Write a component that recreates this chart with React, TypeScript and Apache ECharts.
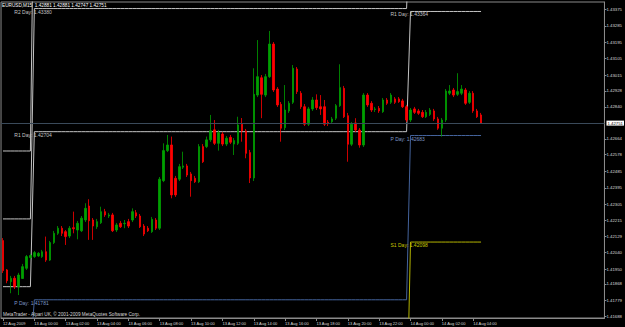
import React, { useEffect, useRef } from "react";
import * as echarts from "echarts";

// ---- data (EURUSD M15, 12 Aug 22:00 .. 14 Aug 04:30) ----
const opens = [
  1.42106, 1.41945, 1.4188, 1.41899, 1.41853, 1.41898, 1.41954, 1.42013, 1.42018, 1.42022,
  1.42018, 1.42045, 1.41999, 1.42095, 1.42146, 1.42174, 1.42155, 1.42131, 1.42177, 1.42164,
  1.4216, 1.42219, 1.42296, 1.42219, 1.42182, 1.42204, 1.42265, 1.42241, 1.42247, 1.42164,
  1.42201, 1.42199, 1.4221, 1.42219, 1.42259, 1.42241, 1.42186, 1.42174, 1.42155, 1.42219,
  1.42174, 1.42435, 1.426, 1.42631, 1.42448, 1.42443, 1.42509, 1.42516, 1.42472, 1.42448,
  1.42429, 1.42622, 1.42622, 1.42659, 1.42714, 1.4264, 1.42691, 1.42636, 1.42673, 1.42636,
  1.4264, 1.42745, 1.42708, 1.42589, 1.4245, 1.42905, 1.43, 1.42905, 1.43006, 1.43185,
  1.42938, 1.42854, 1.42726, 1.42818, 1.42865, 1.43048, 1.42915, 1.42841, 1.42745, 1.42829,
  1.42878, 1.42841, 1.42841, 1.42756, 1.42759, 1.42778, 1.42847, 1.42942, 1.42792, 1.42635,
  1.42752, 1.42713, 1.42631, 1.42905, 1.4286, 1.42826, 1.42832, 1.42814, 1.42878, 1.42865,
  1.42884, 1.42884, 1.42873, 1.42841, 1.42768, 1.42829, 1.42818, 1.4281, 1.42786, 1.42799,
  1.42818, 1.42774, 1.42723, 1.42768, 1.42915, 1.42933, 1.42909, 1.42915, 1.42933, 1.42865,
  1.42915, 1.42818, 1.42796,
];
const closes = [
  1.41941, 1.41886, 1.41899, 1.41853, 1.41917, 1.41963, 1.42018, 1.42024, 1.4204, 1.42036,
  1.42045, 1.41999, 1.42095, 1.42146, 1.42174, 1.42146, 1.42128, 1.42174, 1.42171, 1.42201,
  1.42229, 1.42283, 1.42215, 1.42186, 1.4221, 1.42265, 1.42247, 1.42247, 1.4216, 1.42192,
  1.42182, 1.42201, 1.42186, 1.42265, 1.42241, 1.42182, 1.42142, 1.4216, 1.42223, 1.42174,
  1.42443, 1.426, 1.42631, 1.42357, 1.42357, 1.42512, 1.42516, 1.42466, 1.42435, 1.42429,
  1.42622, 1.42539, 1.42659, 1.42709, 1.4264, 1.42699, 1.42636, 1.42668, 1.42646, 1.42655,
  1.42741, 1.42708, 1.42585, 1.4245, 1.42909, 1.43006, 1.42909, 1.43006, 1.43185, 1.42933,
  1.42851, 1.42723, 1.42823, 1.4286, 1.43052, 1.42924, 1.42841, 1.42745, 1.42829, 1.42878,
  1.42836, 1.42829, 1.42745, 1.42748, 1.42774, 1.42847, 1.42946, 1.42786, 1.42635, 1.42745,
  1.42713, 1.42631, 1.42905, 1.42851, 1.42823, 1.42829, 1.42818, 1.42878, 1.4286, 1.42905,
  1.42865, 1.42869, 1.42841, 1.42768, 1.42823, 1.4281, 1.42805, 1.42786, 1.4281, 1.42823,
  1.42774, 1.42723, 1.42768, 1.42927, 1.42927, 1.42905, 1.42924, 1.42938, 1.4286, 1.42915,
  1.42818, 1.42786, 1.42751,
];
const lows = [
  1.41928, 1.41872, 1.41817, 1.4184, 1.41807, 1.41895, 1.41945, 1.42005, 1.42011, 1.42016,
  1.42011, 1.41989, 1.41994, 1.42087, 1.42137, 1.42131, 1.42082, 1.4212, 1.42146, 1.42113,
  1.42153, 1.42208, 1.4211, 1.4211, 1.4217, 1.42197, 1.42236, 1.4223, 1.42153, 1.42153,
  1.42175, 1.42174, 1.42175, 1.42208, 1.4223, 1.42175, 1.42131, 1.42153, 1.42148, 1.42164,
  1.42164, 1.42427, 1.42592, 1.42338, 1.42346, 1.42433, 1.42499, 1.42455, 1.42347, 1.42422,
  1.42422, 1.42532, 1.42614, 1.42648, 1.42631, 1.426, 1.42625, 1.42625, 1.42636, 1.42576,
  1.42631, 1.42649, 1.42558, 1.42422, 1.42433, 1.42894, 1.42778, 1.42894, 1.42999, 1.42922,
  1.4284, 1.42649, 1.42713, 1.42807, 1.42856, 1.42911, 1.42829, 1.42735, 1.42735, 1.42818,
  1.42823, 1.42796, 1.42735, 1.42735, 1.42752, 1.42768, 1.4284, 1.42779, 1.42539, 1.42625,
  1.42702, 1.42616, 1.4262, 1.4284, 1.42812, 1.42812, 1.42807, 1.42807, 1.42851, 1.42856,
  1.42856, 1.42862, 1.42834, 1.42757, 1.42757, 1.42801, 1.42796, 1.42779, 1.42779, 1.4279,
  1.42763, 1.42714, 1.42677, 1.42757, 1.42905, 1.42894, 1.429, 1.42905, 1.42851, 1.42856,
  1.42807, 1.42779, 1.42747,
];
const highs = [
  1.4212, 1.4195, 1.41912, 1.41912, 1.41929, 1.41978, 1.42027, 1.42033, 1.42049, 1.42043,
  1.42055, 1.42128, 1.42104, 1.42159, 1.42186, 1.42186, 1.42164, 1.42186, 1.42265, 1.42214,
  1.42241, 1.42311, 1.42333, 1.4223, 1.42225, 1.42292, 1.4228, 1.42258, 1.42258, 1.42203,
  1.42214, 1.42219, 1.42225, 1.42283, 1.42274, 1.42252, 1.42197, 1.42186, 1.42236, 1.4223,
  1.42455, 1.4264, 1.42686, 1.42677, 1.42461, 1.42527, 1.42594, 1.42527, 1.42483, 1.42461,
  1.42636, 1.42636, 1.42677, 1.42796, 1.42768, 1.42714, 1.42702, 1.4268, 1.42686, 1.42669,
  1.42786, 1.42779, 1.42719, 1.42604, 1.43052, 1.43207, 1.43015, 1.43021, 1.43257, 1.43196,
  1.42949, 1.42867, 1.4296, 1.42872, 1.4307, 1.43059, 1.42927, 1.42856, 1.4284, 1.42894,
  1.42909, 1.42905, 1.42878, 1.42768, 1.42785, 1.42856, 1.43074, 1.42955, 1.42807, 1.42757,
  1.42778, 1.42724, 1.42916, 1.42916, 1.42872, 1.4284, 1.42845, 1.42889, 1.42889, 1.42916,
  1.42894, 1.42894, 1.42884, 1.42851, 1.42834, 1.4284, 1.42829, 1.42823, 1.42823, 1.42834,
  1.42829, 1.42785, 1.42779, 1.42938, 1.4296, 1.42944, 1.43025, 1.4296, 1.42944, 1.42927,
  1.42927, 1.42829, 1.42807,
];

const timeLabels = [
  "12 Aug 2009", "13 Aug 00:00", "13 Aug 02:00", "13 Aug 04:00", "13 Aug 06:00", "13 Aug 08:00",
  "13 Aug 10:00", "13 Aug 12:00", "13 Aug 14:00", "13 Aug 16:00", "13 Aug 18:00", "13 Aug 20:00",
  "13 Aug 22:00", "14 Aug 00:00", "14 Aug 02:00", "14 Aug 04:00",
];
const BARS_PER_LABEL = 8;
const SLOT_COUNT = 154; // bar slots across the window, incl. the empty chart shift

const priceTickLabels = [
  "1.43375", "1.43285", "1.43195", "1.43105", "1.43015", "1.42928", "1.42840", "1.42664",
  "1.42578", "1.42485", "1.42395", "1.42305", "1.42215", "1.42129", "1.42040", "1.41950",
  "1.41868", "1.41779", "1.41688",
];
const Y_MIN = 1.41681;
const Y_MAX = 1.43416;

// daily pivot levels (12, 13, 14 Aug) and the bar index where each day starts
const dayStart = [0, 8, 104];
const pivotR3 = [1.42598, 1.44303, 1.4463];
const pivotR2 = [1.42225, 1.4338, 1.43949];
const pivotR1 = [1.41853, 1.42704, 1.43364];
const pivotP = [1.4148, 1.41781, 1.42683];
const pivotS1 = [1.41108, 1.41105, 1.42098];

const titleText = "EURUSD,M15  1.42881 1.42881 1.42747 1.42751";
const copyrightText = "MetaTrader - Alpari UK, \u00a9 2001-2009 MetaQuotes Software Corp.";

const FONT = "Liberation Sans";

function dayOf(i: number) {
  let d = 0;
  for (let k = 0; k < dayStart.length; k++) if (i >= dayStart[k]) d = k;
  return d;
}

function pivotSeries(name: string, levels: number[], lineColor: string, textColor: string) {
  const data = opens.map((_, i) => levels[dayOf(i)]);
  const points: any[] = [];
  for (let d = 1; d < levels.length; d++) {
    const v = levels[d];
    if (v > Y_MIN && v < Y_MAX) {
      points.push({ coord: [dayStart[d], v], value: v, name });
    }
  }
  return {
    type: "line",
    name,
    data,
    showSymbol: false,
    symbol: "none",
    z: 1,
    lineStyle: { color: lineColor, width: 1 },
    silent: true,
    markPoint: {
      symbol: "circle",
      symbolSize: 0,
      silent: true,
      data: points,
      label: {
        show: true,
        position: [-20, 0.5],
        align: "left",
        verticalAlign: "top",
        color: textColor,
        fontSize: 5,
        fontFamily: FONT,
        formatter: (p: any) => `${name} Day: ${Number(p.value).toFixed(5)}`,
      },
    },
  } as any;
}

export default function App() {
  const ref = useRef<HTMLDivElement>(null);
  useEffect(() => {
    if (!ref.current) return;
    const chart = echarts.init(ref.current, null, { renderer: "svg" });
    const categories = Array.from({ length: SLOT_COUNT }, (_, i) => String(i));
    const candleData = opens.map((o, i) => [o, closes[i], lows[i], highs[i]]);
    const lastClose = closes[closes.length - 1];
    const showTime = (index: number) => index % BARS_PER_LABEL === 0 && index / BARS_PER_LABEL < timeLabels.length;

    const priceLine = {
      type: "line",
      name: "price",
      data: closes,
      showSymbol: false,
      silent: true,
      z: 2,
      lineStyle: { opacity: 0, width: 0 },
      markLine: {
        silent: true,
        precision: 5,
        symbol: ["none", "none"],
        data: [{ yAxis: lastClose }],
        lineStyle: { color: "#3a4a5a", width: 1, type: "solid" },
        label: {
          show: true,
          position: "end",
          distance: 2,
          formatter: () => lastClose.toFixed(5),
          backgroundColor: "#ffffff",
          color: "#000000",
          fontSize: 4.3,
          fontFamily: FONT,
          padding: [0.5, 1],
        },
      },
    };

    chart.setOption({
      animation: false,
      backgroundColor: "#000000",
      title: [
        {
          text: titleText,
          left: 2,
          top: 2.5,
          padding: 0,
          textStyle: { color: "#ffffff", fontSize: 4.7, fontWeight: "normal", fontFamily: FONT },
        },
        {
          text: copyrightText,
          left: 3,
          top: 312,
          padding: 0,
          textStyle: { color: "#d8d8d8", fontSize: 4.7, fontWeight: "normal", fontFamily: FONT },
        },
      ],
      grid: {
        left: -0.5,
        top: 2,
        width: 606.5,
        height: 316,
        show: true,
        borderColor: "#8a8a8a",
        borderWidth: 1,
        backgroundColor: "transparent",
      },
      xAxis: {
        type: "category",
        data: categories,
        boundaryGap: true,
        axisLine: { show: true, lineStyle: { color: "#8a8a8a", width: 1 } },
        axisTick: { show: true, interval: (i: number) => showTime(i), alignWithLabel: true, length: 3, lineStyle: { color: "#8a8a8a" } },
        axisLabel: {
          interval: (i: number) => showTime(i),
          formatter: (_v: string, i: number) => timeLabels[Math.round(i / BARS_PER_LABEL)] ?? "",
          align: "left",
          color: "#d8d8d8",
          fontSize: 4,
          fontFamily: FONT,
          margin: 3,
        },
        splitLine: { show: false },
      },
      yAxis: {
        type: "value",
        position: "right",
        min: Y_MIN,
        max: Y_MAX,
        scale: true,
        splitLine: { show: false },
        axisLine: { show: true, lineStyle: { color: "#8a8a8a", width: 1 } },
        axisTick: {
          show: true,
          length: 2,
          customValues: priceTickLabels.map((s) => parseFloat(s)),
          lineStyle: { color: "#8a8a8a" },
        },
        axisLabel: {
          customValues: priceTickLabels.map((s) => parseFloat(s)),
          formatter: (v: number) => v.toFixed(5),
          color: "#d8d8d8",
          fontSize: 4.3,
          fontFamily: FONT,
          margin: 2,
        },
      },
      series: [
        pivotSeries("R3", pivotR3, "#c4c4c4", "#c4c4c4"),
        pivotSeries("R2", pivotR2, "#c4c4c4", "#c4c4c4"),
        pivotSeries("R1", pivotR1, "#c4c4c4", "#c4c4c4"),
        pivotSeries("P", pivotP, "#44639c", "#7c96c6"),
        pivotSeries("S1", pivotS1, "#b4b400", "#c8c800"),
        priceLine,
        {
          type: "candlestick",
          data: candleData,
          barWidth: 2,
          z: 3,
          silent: true,
          itemStyle: {
            color: "#00a000",
            color0: "#ff0000",
            borderColor: "#00a000",
            borderColor0: "#ff0000",
            borderWidth: 0.8,
          },
        },
      ],
    });
    return () => chart.dispose();
  }, []);
  return <div ref={ref} style={{ position: "absolute", left: 0, top: 0, width: 625, height: 327 }} />;
}
